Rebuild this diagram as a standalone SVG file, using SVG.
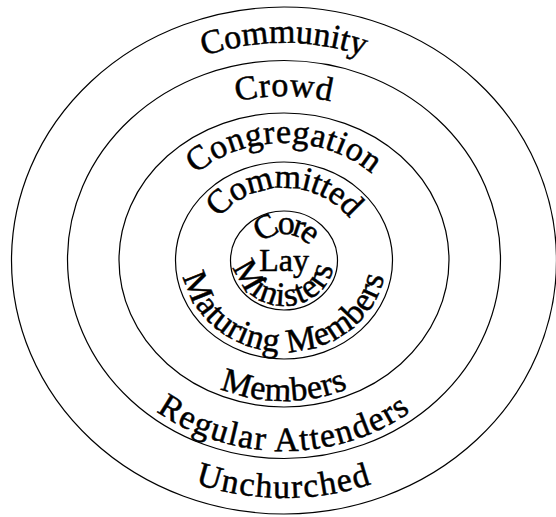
<svg xmlns="http://www.w3.org/2000/svg" width="556" height="517" viewBox="0 0 556 517">
<style>
.ring{fill:none;stroke:#000;stroke-width:1.2}
.lbl{font-family:"Liberation Serif","Times New Roman",serif;font-size:34px;fill:#000;stroke:#000;stroke-width:0.5}
</style>
<defs>
<path id="pCommunity" d="M284,477 A234,217 0 0 1 284,43 A234,217 0 0 1 284,477"/>
<path id="pCrowd" d="M284,424 A181,164 0 0 1 284,96 A181,164 0 0 1 284,424"/>
<path id="pCongregation" d="M284,377 A130,117 0 0 1 284,143 A130,117 0 0 1 284,377"/>
<path id="pCommitted" d="M284,332 A80,72 0 0 1 284,188 A80,72 0 0 1 284,332"/>
<path id="pCore" d="M284,286 A29,26 0 0 1 284,234 A29,26 0 0 1 284,286"/>
<path id="pMinisters" d="M284,214 A50,46 0 0 0 284,306 A50,46 0 0 0 284,214"/>
<path id="pMaturing" d="M284,168 A102,92 0 0 0 284,352 A102,92 0 0 0 284,168"/>
<path id="pMembers" d="M284,119 A157,141 0 0 0 284,401 A157,141 0 0 0 284,119"/>
<path id="pRegular" d="M284,69 A209,191 0 0 0 284,451 A209,191 0 0 0 284,69"/>
<path id="pUnchurched" d="M284,22 A258,238 0 0 0 284,498 A258,238 0 0 0 284,22"/>
</defs>
<g id="rings">
<ellipse id="ring-outer" class="ring" cx="284" cy="260.5" rx="272.5" ry="253.5"/>
<ellipse id="ring-crowd" class="ring" cx="284" cy="259.5" rx="216.5" ry="199"/>
<ellipse id="ring-congregation" class="ring" cx="284" cy="260" rx="165" ry="147"/>
<ellipse id="ring-committed" class="ring" cx="284" cy="260.5" rx="108.5" ry="98.5"/>
<ellipse id="ring-core" class="ring" cx="284" cy="260.5" rx="53.5" ry="49.5"/>
</g>
<g id="labels">
<g id="community"><text class="lbl"><textPath href="#pCommunity" startOffset="50%" text-anchor="middle">Community</textPath></text></g>
<g id="crowd"><text class="lbl" letter-spacing="0.5"><textPath href="#pCrowd" startOffset="50%" text-anchor="middle">Crowd</textPath></text></g>
<g id="congregation"><text class="lbl" letter-spacing="0.5"><textPath href="#pCongregation" startOffset="50%" text-anchor="middle">Congregation</textPath></text></g>
<g id="committed"><text class="lbl" letter-spacing="-0.5"><textPath href="#pCommitted" startOffset="50%" text-anchor="middle">Committed</textPath></text></g>
<g id="core"><text class="lbl" letter-spacing="-4"><textPath href="#pCore" startOffset="50%" text-anchor="middle">Core</textPath></text></g>
<g id="lay"><text class="lbl" x="284" y="271" text-anchor="middle" style="font-size:32px">Lay</text></g>
<g id="ministers"><text class="lbl" letter-spacing="1"><textPath href="#pMinisters" startOffset="50%" text-anchor="middle">Ministers</textPath></text></g>
<g id="maturing"><text class="lbl" letter-spacing="0.5"><textPath href="#pMaturing" startOffset="50%" text-anchor="middle">Maturing Members</textPath></text></g>
<g id="members"><text class="lbl" letter-spacing="0.5"><textPath href="#pMembers" startOffset="50%" text-anchor="middle">Members</textPath></text></g>
<g id="regular"><text class="lbl" letter-spacing="1.5"><textPath href="#pRegular" startOffset="50%" text-anchor="middle">Regular Attenders</textPath></text></g>
<g id="unchurched"><text class="lbl" letter-spacing="1.5"><textPath href="#pUnchurched" startOffset="50%" text-anchor="middle">Unchurched</textPath></text></g>
</g>
</svg>
